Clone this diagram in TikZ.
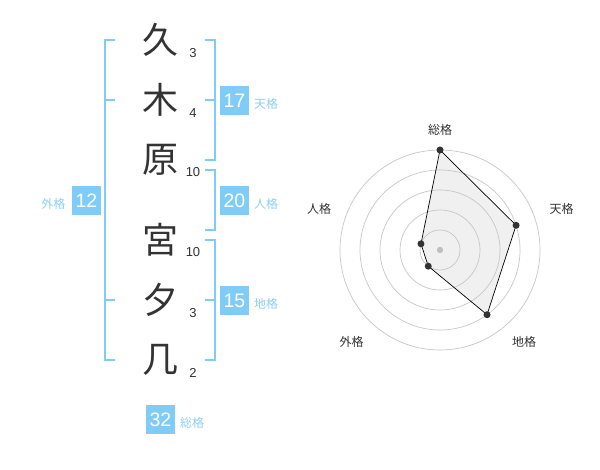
\documentclass[tikz,border=0pt]{standalone}
\usepackage{fontspec}
\setmainfont{Liberation Sans}
\newfontfamily\jp{Noto Sans CJK JP}
\definecolor{kblue}{HTML}{80CCF8}
\definecolor{klabel}{HTML}{8CD0F5}
\definecolor{kdark}{HTML}{333333}
\begin{document}
\begin{tikzpicture}[x=1pt,y=-1pt,
  kanji/.style={font=\jp\fontsize{36}{36}\selectfont,text=kdark,inner sep=0pt},
  strk/.style={font=\fontsize{13}{13}\selectfont,text=kdark,inner sep=0pt},
  numbox/.style={fill=kblue,text=white,minimum width=29pt,minimum height=29pt,inner sep=0pt,font=\fontsize{19.5}{19.5}\selectfont},
  blabel/.style={font=\jp\fontsize{12}{12}\selectfont,text=klabel,inner sep=0pt},
  brk/.style={draw=kblue,line width=2pt},
  ring/.style={draw=black!22,line width=0.7pt},
  rlabel/.style={font=\jp\fontsize{12}{12}\selectfont,text=kdark,inner sep=0pt},
  dot/.style={circle,fill=kdark,inner sep=0pt,minimum size=7pt}]
\useasboundingbox[fill=white] (0,0) rectangle (600,470);
% kanji
\node[kanji] (k1) at (160,40) {久};
\node[kanji] (k2) at (160,100) {木};
\node[kanji] (k3) at (160,160) {原};
\node[kanji] (k4) at (160,240) {宮};
\node[kanji] (k5) at (160,300) {夕};
\node[kanji] (k6) at (160,360) {几};
% stroke counts
\node[strk] (s1) at (193,53) {3};
\node[strk] (s2) at (193,113) {4};
\node[strk] (s3) at (193,172) {10};
\node[strk] (s4) at (193,252) {10};
\node[strk] (s5) at (193,313) {3};
\node[strk] (s6) at (193,373) {2};
% left bracket (gaikaku)
\draw[brk] (115,40) -- (105,40) -- (105,360) -- (115,360);
\draw[brk] (105,100) -- (115,100);
\draw[brk] (105,300) -- (115,300);
% right brackets
\draw[brk] (205,40) -- (215,40) -- (215,160) -- (205,160);
\draw[brk] (205,100) -- (215,100);
\draw[brk] (205,170) -- (215,170) -- (215,230) -- (205,230);
\draw[brk] (205,240) -- (215,240) -- (215,360) -- (205,360);
\draw[brk] (205,300) -- (215,300);
% boxes
\node[numbox] (b17) at (234.5,100.5) {17};
\node[blabel,anchor=west] (l17) at (254,104) {天格};
\node[numbox] (b20) at (234.5,201) {20};
\node[blabel,anchor=west] (l20) at (254,204) {人格};
\node[numbox] (b15) at (234.5,300.5) {15};
\node[blabel,anchor=west] (l15) at (254,304) {地格};
\node[numbox] (b12) at (86.5,200.5) {12};
\node[blabel,anchor=east] (l12) at (65.5,204) {外格};
\node[numbox] (b32) at (160.5,419.5) {32};
\node[blabel,anchor=west] (l32) at (180,423) {総格};
% radar
\begin{scope}[shift={(440,250)}]
\coordinate (p1) at (-90:100);
\coordinate (p2) at (-18:80);
\coordinate (p3) at (54:80);
\coordinate (p4) at (126:20);
\coordinate (p5) at (198:20);
\fill[black!6] (p1) -- (p2) -- (p3) -- (p4) -- (p5) -- cycle;
\foreach \r in {20,40,60,80,100} \draw[ring] (0,0) circle[radius=\r];
\fill[black!25] (0,0) circle[radius=3.2];
\draw[draw=black,line width=0.7pt] (p1) -- (p2) -- (p3) -- (p4) -- (p5) -- cycle;
\foreach \p in {p1,p2,p3,p4,p5} \node[dot] at (\p) {};
\node[rlabel] (r1) at (0,-120) {総格};
\node[rlabel] (r2) at (121.7,-41) {天格};
\node[rlabel] (r3) at (84,92) {地格};
\node[rlabel] (r4) at (-88.3,92) {外格};
\node[rlabel] (r5) at (-121,-41) {人格};
\end{scope}
\end{tikzpicture}
\end{document}
